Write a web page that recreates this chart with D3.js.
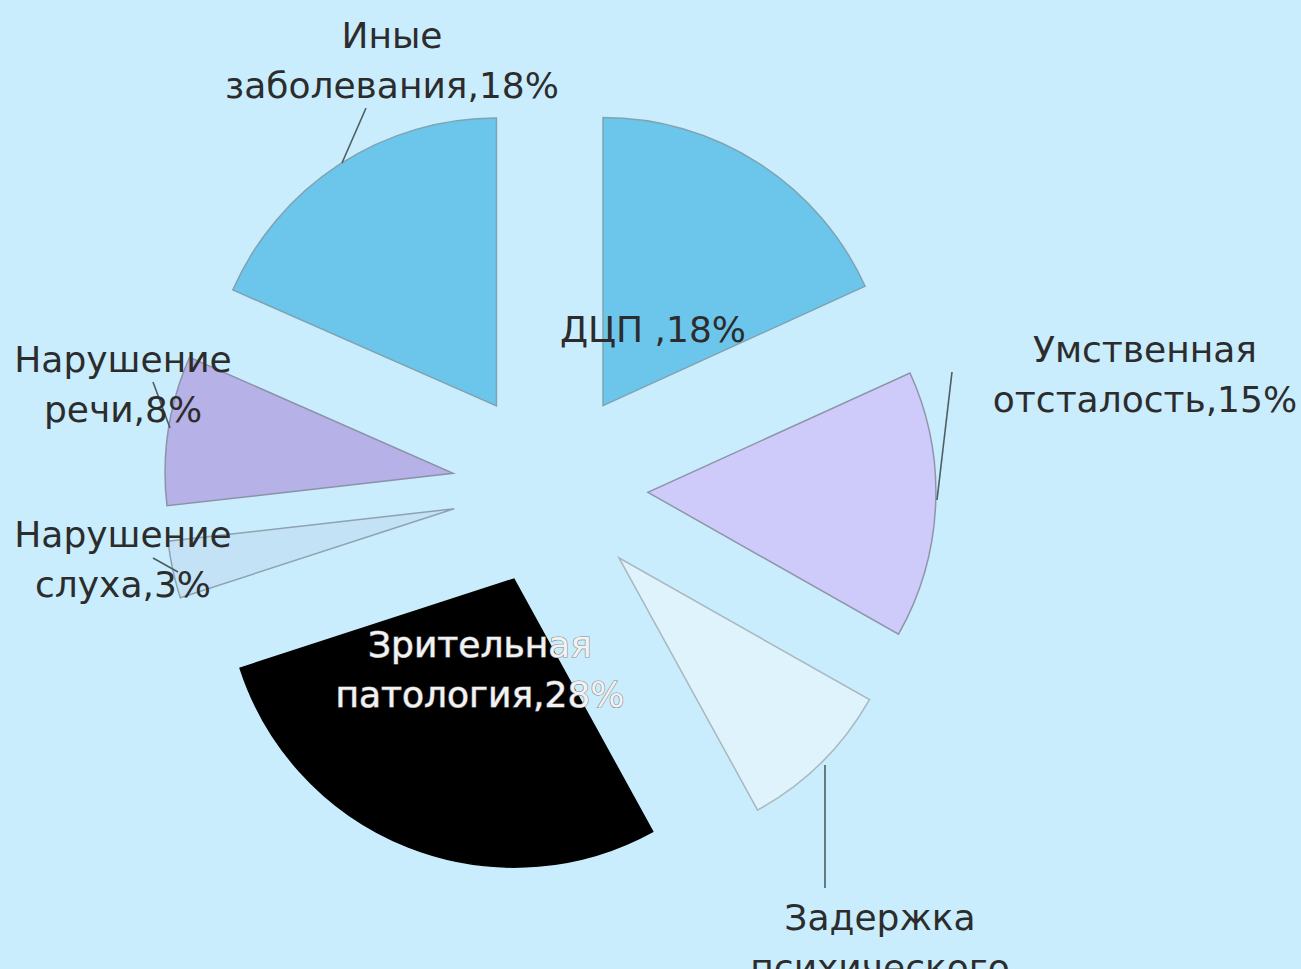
<!DOCTYPE html>
<html>
<head>
    <meta charset="UTF-8">
    <script src="https://d3js.org/d3.v7.min.js"></script>
    <style>
        html, body { margin: 0; padding: 0; background: #c9edfd; }
        svg { display: block; }
        .lbl { font-family: "DejaVu Sans", sans-serif; font-size: 36px; fill: #2c2c2c; }
        .lbl.inv { fill: #f2f2f2; stroke: #8a8a8a; stroke-width: 1.2px; paint-order: stroke; }
        .leader { stroke: #4d5d63; stroke-width: 1.6; fill: none; }
    </style>
</head>
<body>
    <svg id="chart" width="1301" height="969"></svg>

    <script>
        // categories (split into label lines) and their shares, clockwise from 12 o'clock
        const categories = [
            ["ДЦП "],
            ["Умственная", "отсталость"],
            ["Задержка", "психического", "развития"],
            ["Зрительная", "патология"],
            ["Нарушение", "слуха"],
            ["Нарушение", "речи"],
            ["Иные", "заболевания"]
        ];
        const values = [18.2, 15.0, 8.8, 28.0, 3.2, 8.4, 18.4];

        const colors = ["#6cc6eb", "#cecbfb", "#dff3fd", "#000000", "#c3e2f6", "#b6b1e6", "#6cc6eb"];
        const strokes = ["#7fa3b0", "#8f95a8", "#a9b8bf", "#000000", "#8fa2b0", "#8c93a8", "#7fa3b0"];

        // label placement: centre x, first baseline y, leader line [x1,y1,x2,y2]
        const labelPos = [
            {x: 653, y: 342, line: null},
            {x: 1145, y: 362, line: [952, 372, 937, 500]},
            {x: 880, y: 930, line: [825, 765, 825, 888]},
            {x: 480, y: 657, line: null, inv: true},
            {x: 123, y: 547, line: [153, 558, 178, 572]},
            {x: 123, y: 372, line: [153, 382, 170, 428]},
            {x: 392, y: 48, line: [366, 108, 342, 163]}
        ];

        const cx = 550, cy = 488, radius = 288, explode = 98;

        const svg = d3.select("#chart");

        const pie = d3.pie().sort(null).value(d => d);
        const arc = d3.arc().innerRadius(0).outerRadius(radius);
        const arcs = pie(values);

        const g = svg.append("g").attr("transform", "translate(" + cx + "," + cy + ")");

        g.selectAll("path")
            .data(arcs)
            .join("path")
            .attr("d", arc)
            .attr("transform", d => {
                let mid = (d.startAngle + d.endAngle) / 2;
                return "translate(" + (explode * Math.sin(mid)) + "," + (-explode * Math.cos(mid)) + ")";
            })
            .attr("fill", (d, i) => colors[i])
            .attr("stroke", (d, i) => strokes[i])
            .attr("stroke-width", 1.5);

        // leader lines
        svg.selectAll("line.leader")
            .data(labelPos.filter(p => p.line))
            .join("line")
            .attr("class", "leader")
            .attr("x1", p => p.line[0]).attr("y1", p => p.line[1])
            .attr("x2", p => p.line[2]).attr("y2", p => p.line[3]);

        // labels
        categories.forEach((lines, i) => {
            let pct = Math.round(values[i]) + "%";
            let txt = lines.slice();
            txt[txt.length - 1] = txt[txt.length - 1] + "," + pct;
            let p = labelPos[i];
            let t = svg.append("text")
                .attr("class", p.inv ? "lbl inv" : "lbl")
                .attr("text-anchor", "middle")
                .attr("x", p.x)
                .attr("y", p.y);
            txt.forEach((s, k) => {
                t.append("tspan")
                    .attr("x", p.x)
                    .attr("dy", k === 0 ? 0 : 50)
                    .text(s);
            });
        });
    </script>
</body>
</html>
